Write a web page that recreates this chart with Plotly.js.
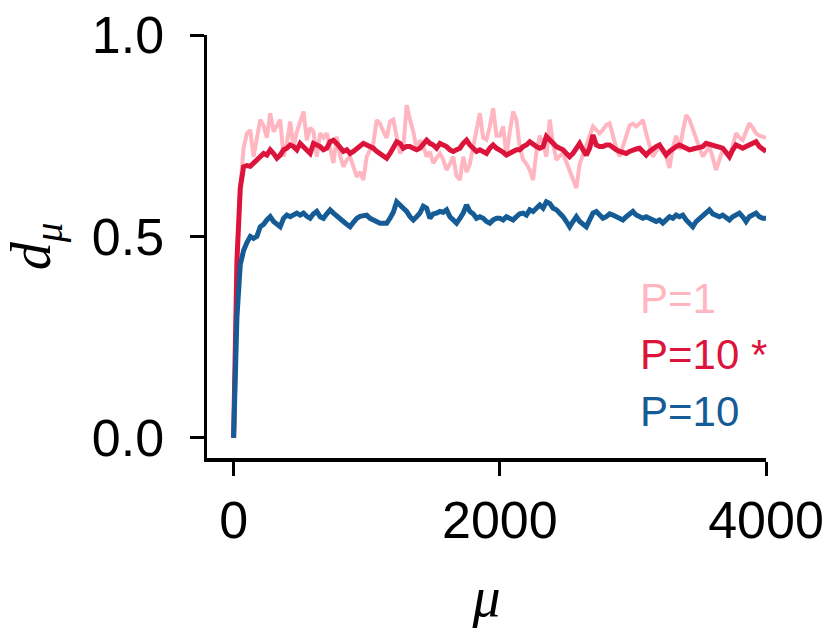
<!DOCTYPE html>
<html>
<head>
<meta charset="utf-8">
<script src="https://cdn.plot.ly/plotly-3.0.1.min.js"></script>
<style>html,body{margin:0;padding:0;background:#fff;}#chart{width:833px;height:638px;}</style>
</head>
<body>
<div id="chart"></div>
<script>
// sample step in mu
const muStep = 25;

// P=1 (light pink)
const p1 = [
0.0,0.45,0.62,0.72,0.756,0.764,0.698,0.739,0.790,0.775,
0.745,0.806,0.760,0.775,0.790,0.698,0.731,0.785,0.723,0.760,
0.785,0.810,0.739,0.770,0.760,0.698,0.756,0.745,0.756,0.720,
0.682,0.748,0.700,0.673,0.690,0.698,0.670,0.648,0.660,0.640,
0.698,0.715,0.731,0.789,0.780,0.760,0.745,0.785,0.790,0.748,
0.706,0.720,0.826,0.790,0.760,0.715,0.739,0.725,0.698,0.710,
0.682,0.695,0.706,0.690,0.665,0.680,0.698,0.650,0.640,0.698,
0.660,0.680,0.723,0.770,0.806,0.745,0.740,0.773,0.818,0.750,
0.750,0.773,0.700,0.760,0.810,0.789,0.720,0.690,0.680,0.665,
0.640,0.710,0.750,0.730,0.698,0.790,0.730,0.690,0.700,0.706,
0.685,0.665,0.640,0.620,0.680,0.705,0.731,0.750,0.773,0.765,
0.756,0.765,0.777,0.781,0.750,0.720,0.698,0.725,0.756,0.775,
0.780,0.773,0.780,0.789,0.755,0.725,0.698,0.712,0.723,0.710,
0.698,0.670,0.720,0.750,0.715,0.760,0.801,0.790,0.765,0.739,
0.720,0.698,0.710,0.723,0.695,0.665,0.690,0.715,0.705,0.698,
0.725,0.756,0.745,0.739,0.760,0.781,0.770,0.756,0.750,0.748,
0.745
];

// P=10 * (crimson)
const p10star = [
0.0,0.44,0.62,0.673,0.676,0.674,0.682,0.690,0.698,0.706,
0.702,0.715,0.706,0.694,0.702,0.715,0.719,0.727,0.723,0.715,
0.731,0.723,0.711,0.706,0.731,0.727,0.723,0.715,0.719,0.735,
0.739,0.731,0.723,0.711,0.715,0.706,0.711,0.719,0.727,0.731,
0.727,0.723,0.719,0.711,0.706,0.702,0.694,0.706,0.723,0.735,
0.731,0.719,0.723,0.723,0.719,0.715,0.719,0.727,0.739,0.731,
0.727,0.719,0.731,0.727,0.723,0.715,0.711,0.715,0.719,0.731,
0.739,0.727,0.719,0.711,0.715,0.711,0.706,0.719,0.727,0.719,
0.715,0.709,0.702,0.708,0.711,0.715,0.715,0.723,0.727,0.735,
0.727,0.723,0.719,0.723,0.748,0.739,0.731,0.723,0.719,0.715,
0.706,0.698,0.706,0.719,0.731,0.715,0.702,0.719,0.752,0.727,
0.723,0.723,0.727,0.727,0.719,0.715,0.711,0.708,0.706,0.711,
0.715,0.717,0.719,0.711,0.702,0.711,0.719,0.723,0.727,0.715,
0.702,0.711,0.719,0.723,0.727,0.723,0.719,0.715,0.717,0.719,
0.719,0.723,0.731,0.729,0.727,0.723,0.721,0.719,0.709,0.698,
0.715,0.727,0.723,0.719,0.723,0.727,0.731,0.735,0.723,0.715,
0.711
];

// P=10 (blue)
const p10 = [
0.0,0.30,0.43,0.465,0.485,0.50,0.495,0.50,0.524,0.530,
0.541,0.549,0.537,0.530,0.524,0.545,0.553,0.549,0.553,0.558,
0.553,0.558,0.550,0.545,0.556,0.562,0.549,0.545,0.556,0.566,
0.558,0.550,0.541,0.537,0.530,0.524,0.535,0.545,0.550,0.553,
0.553,0.545,0.541,0.537,0.533,0.533,0.533,0.545,0.560,0.586,
0.578,0.570,0.562,0.549,0.541,0.549,0.558,0.575,0.570,0.545,
0.556,0.558,0.562,0.560,0.566,0.549,0.541,0.533,0.545,0.558,
0.578,0.562,0.556,0.545,0.549,0.545,0.537,0.533,0.541,0.545,
0.545,0.541,0.549,0.545,0.541,0.549,0.556,0.558,0.553,0.566,
0.562,0.570,0.578,0.570,0.586,0.582,0.570,0.566,0.558,0.549,
0.537,0.524,0.537,0.549,0.537,0.530,0.524,0.541,0.558,0.562,
0.553,0.545,0.549,0.556,0.553,0.549,0.545,0.541,0.549,0.556,
0.562,0.553,0.549,0.545,0.549,0.545,0.541,0.537,0.541,0.533,
0.541,0.549,0.545,0.553,0.549,0.553,0.541,0.533,0.524,0.537,
0.545,0.553,0.558,0.566,0.556,0.553,0.549,0.553,0.545,0.541,
0.549,0.553,0.558,0.549,0.537,0.549,0.553,0.558,0.549,0.545,
0.545
];

const xTicks = [0, 2000, 4000];
const yTicks = [0, 0.5, 1.0];
const yTickText = ['0.0', '0.5', '1.0'];
const legendLabels = ['P=1', 'P=10 *', 'P=10'];
const colors = ['#FFB6C1', '#DC143C', '#155C96'];

const mu = p1.map((_, i) => i * muStep);

const traces = [
  {x: mu, y: p1, type: 'scatter', mode: 'lines', name: legendLabels[0], line: {color: colors[0], width: 4}},
  {x: mu, y: p10star, type: 'scatter', mode: 'lines', name: legendLabels[1], line: {color: colors[1], width: 5}},
  {x: mu, y: p10, type: 'scatter', mode: 'lines', name: legendLabels[2], line: {color: colors[2], width: 5}}
];

const tickFont = {family: 'Liberation Sans, Arial, sans-serif', size: 52, color: '#000'};
const legY = [0.378, 0.2435, 0.111];

const layout = {
  width: 833, height: 638,
  margin: {l: 207, r: 67, t: 35, b: 180},
  paper_bgcolor: '#fff', plot_bgcolor: '#fff',
  showlegend: false,
  xaxis: {
    range: [-200, 4000], tickvals: xTicks, ticktext: xTicks.map(String),
    showline: true, linecolor: '#000', linewidth: 3.5,
    ticks: 'outside', ticklen: 14, tickwidth: 3, tickcolor: '#000',
    showgrid: false, zeroline: false, tickfont: tickFont,
    ticklabelstandoff: 0,
    title: {text: '<i>μ</i>', font: {family: 'Liberation Serif, DejaVu Serif, serif', size: 56, color: '#000'}, standoff: 30}
  },
  yaxis: {
    range: [-0.05, 1.0], tickvals: yTicks, ticktext: yTickText,
    showline: true, linecolor: '#000', linewidth: 3.5,
    ticks: 'outside', ticklen: 14, tickwidth: 3, tickcolor: '#000',
    showgrid: false, zeroline: false, tickfont: tickFont,
    ticklabelstandoff: 15,
    title: {text: '<i>d</i><sub><i>μ</i></sub>', font: {family: 'Liberation Serif, DejaVu Serif, serif', size: 56, color: '#000'}, standoff: 29}
  },
  annotations: legendLabels.map((t, i) => ({
    text: t, xref: 'paper', yref: 'paper', x: 0.771, y: legY[i],
    xanchor: 'left', yanchor: 'middle', showarrow: false,
    font: {family: 'Liberation Sans, Arial, sans-serif', size: 42, color: colors[i]}
  }))
};

Plotly.newPlot('chart', traces, layout, {staticPlot: true, displayModeBar: false});
</script>
</body>
</html>
